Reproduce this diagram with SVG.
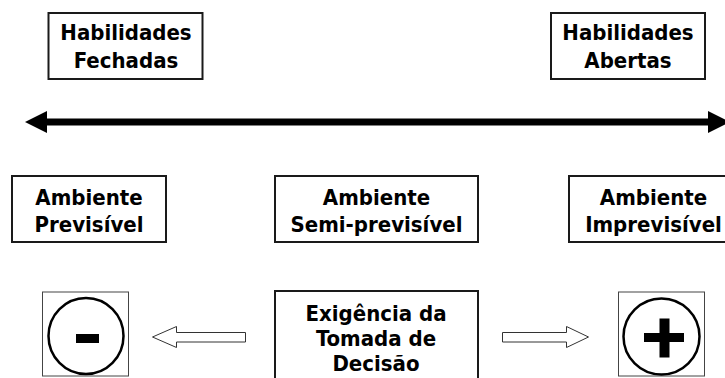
<svg xmlns="http://www.w3.org/2000/svg" width="725" height="378" viewBox="0 0 725 378">
<style>
.box{fill:#fff;stroke:#1a1a1a;stroke-width:2}
.thin{fill:#fff;stroke:#444;stroke-width:1}
.t{font-family:"DejaVu Sans Condensed","DejaVu Sans","Liberation Sans",sans-serif;font-stretch:condensed;font-weight:bold;font-size:22px;fill:#000;text-anchor:middle}
.hollow{fill:#fff;stroke:#333;stroke-width:1}
</style>
<rect width="725" height="378" fill="#fff"/>
<g id="habilidades-fechadas">
<rect class="box" x="48.5" y="13" width="154" height="66"/>
<text class="t" x="126" y="40">Habilidades</text>
<text class="t" x="126" y="68">Fechadas</text>
</g>
<g id="habilidades-abertas">
<rect class="box" x="551" y="13" width="154" height="66"/>
<text class="t" x="628" y="40">Habilidades</text>
<text class="t" x="628" y="68">Abertas</text>
</g>
<g id="ambiente-previsivel">
<rect class="box" x="12" y="176" width="154" height="66"/>
<text class="t" x="89" y="205">Ambiente</text>
<text class="t" x="89" y="232">Previsível</text>
</g>
<g id="ambiente-semi">
<rect class="box" x="275" y="176" width="203" height="66"/>
<text class="t" x="376.5" y="205">Ambiente</text>
<text class="t" x="376.5" y="232">Semi-previsível</text>
</g>
<g id="ambiente-imprevisivel">
<rect class="box" x="569" y="176" width="169" height="66"/>
<text class="t" x="653.5" y="205">Ambiente</text>
<text class="t" x="653.5" y="232">Imprevisível</text>
</g>
<g id="exigencia">
<rect class="box" x="275" y="291" width="203" height="100"/>
<text class="t" x="376" y="321">Exigência da</text>
<text class="t" x="376" y="346">Tomada de</text>
<text class="t" x="376" y="371">Decisão</text>
</g>
<g id="menos">
<rect class="thin" x="42.5" y="292" width="86" height="84"/>
<ellipse cx="86" cy="336" rx="37.5" ry="38" fill="none" stroke="#000" stroke-width="2.5"/>
<rect x="76" y="334" width="23" height="9" fill="#000"/>
</g>
<g id="mais">
<rect class="thin" x="618.5" y="292" width="86" height="84"/>
<ellipse cx="661.5" cy="336.5" rx="38" ry="38" fill="none" stroke="#000" stroke-width="2.5"/>
<rect x="644" y="333" width="40" height="9" fill="#000"/>
<rect x="659.5" y="318.5" width="10" height="39" fill="#000"/>
</g>
<g id="connectors">
<line x1="44" y1="122" x2="711" y2="122" stroke="#000" stroke-width="7"/>
<polygon points="25,122 47,111 47,133" fill="#000"/>
<polygon points="730,122 708,111 708,133" fill="#000"/>
<polygon class="hollow" points="152.5,337 176.5,326.5 176.5,332.5 245.5,332.5 245.5,342 176.5,342 176.5,347.5"/>
<polygon class="hollow" points="588.5,337 566.5,326.5 566.5,332.5 502.5,332.5 502.5,342 566.5,342 566.5,347.5"/>
</g>
</svg>
